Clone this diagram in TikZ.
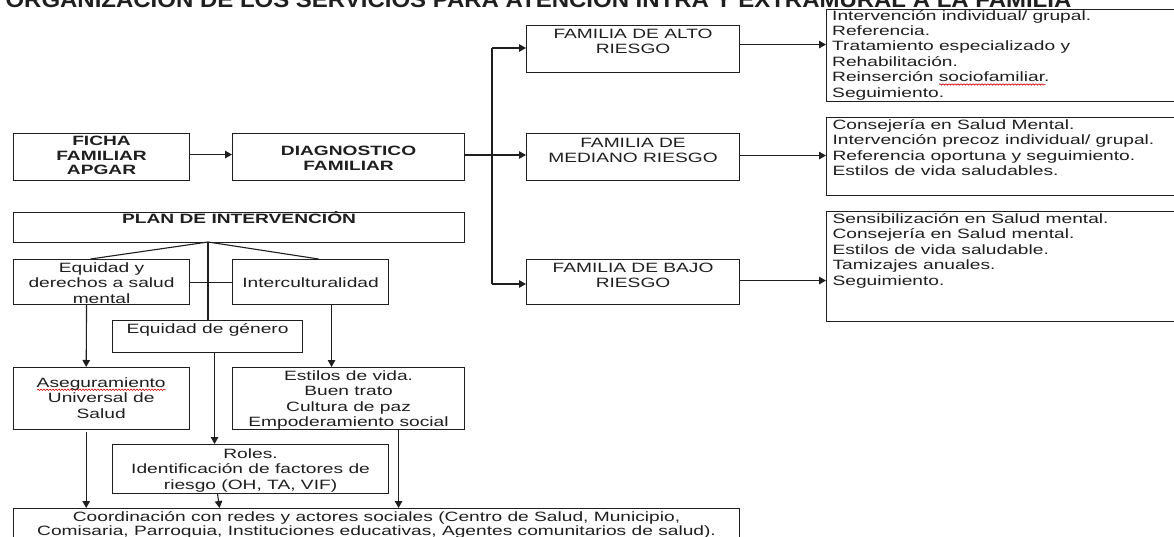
\documentclass[tikz,border=0pt]{standalone}
\usepackage{fontspec}
\setmainfont{Liberation Sans}[FakeStretch=1.42]
\newfontfamily\tfont{Liberation Sans}[FakeStretch=1.09]
\usetikzlibrary{arrows.meta,decorations.pathmorphing}
\newlength\spellw
\newcommand\spellchk[1]{\settowidth{\spellw}{#1}\makebox[0pt][l]{\tikz[baseline=0pt]\draw[red!85!black, line width=0.6pt, decorate, decoration={snake, amplitude=0.7pt, segment length=3pt}] (0pt,-2.6pt) -- (\spellw,-2.6pt);}#1}
\newcommand\mlines[2][c]{\begin{tabular}[t]{@{}#1@{}}#2\end{tabular}}
\begin{document}
\begin{tikzpicture}[x=1pt,y=-1pt,color=black!88,line width=1.1pt,
  box/.style={draw, rectangle, inner sep=0pt, anchor=north west, font=\fontsize{13.5}{15.4}\selectfont},
  bbox/.style={box, font=\fontsize{13.5}{15}\selectfont\bfseries},
  lbox/.style={box, inner xsep=6pt},
  arr/.style={-{Triangle[length=7pt,width=7.5pt]}}]
\useasboundingbox (0,0) rectangle (1174,537);
\clip (0,0) rectangle (1174,537);
\fill[white] (0,0) rectangle (1174,537);

% title
\node[anchor=base west, inner sep=0pt, font=\tfont\bfseries\fontsize{22}{24}\selectfont] (title) at (5,7.5)
  {ORGANIZACIÓN DE LOS SERVICIOS PARA ATENCIÓN INTRA Y EXTRAMURAL A LA FAMILIA};

% risk families
\node[box, minimum width=213pt, text height=13pt, text depth=34pt] (alto) at (526,25)
  {\mlines{FAMILIA DE ALTO\\RIESGO}};
\node[box, minimum width=213pt, text height=14pt, text depth=33pt] (med) at (526,133)
  {\mlines{FAMILIA DE\\MEDIANO RIESGO}};
\node[box, minimum width=213pt, text height=13pt, text depth=32pt] (bajo) at (526,259)
  {\mlines{FAMILIA DE BAJO\\RIESGO}};

% lists
\node[lbox, text height=11pt, text depth=81pt] (lalto) at (826,9)
  {\makebox[348pt][l]{\mlines[l]{Intervención individual/ grupal.\\Referencia.\\Tratamiento especializado y\\Rehabilitación.\\Reinserción \spellchk{sociofamiliar}.\\Seguimiento.}}};
\node[lbox, text height=12pt, text depth=66pt] (lmed) at (826,117)
  {\makebox[348pt][l]{\mlines[l]{Consejería en Salud Mental.\\Intervención precoz individual/ grupal.\\Referencia oportuna y seguimiento.\\Estilos de vida saludables.}}};
\node[lbox, text height=12pt, text depth=98pt] (lbajo) at (826,211)
  {\makebox[348pt][l]{\mlines[l]{Sensibilización en Salud mental.\\Consejería en Salud mental.\\Estilos de vida saludable.\\Tamizajes anuales.\\Seguimiento.}}};

% left column
\node[bbox, minimum width=176pt, text height=12pt, text depth=35pt, font=\fontsize{13.5}{14.5}\selectfont\bfseries] (ficha) at (13,133)
  {\mlines{FICHA\\FAMILIAR\\APGAR}};
\node[bbox, minimum width=232pt, text height=22pt, text depth=25pt] (diag) at (232,133)
  {\mlines{DIAGNOSTICO\\FAMILIAR}};
\node[bbox, minimum width=451pt, text height=11pt, text depth=19pt] (plan) at (13,212)
  {PLAN DE INTERVENCIÓN};
\node[box, minimum width=176pt, text height=13pt, text depth=32pt] (equi) at (13,259)
  {\mlines{Equidad y\\derechos a salud\\mental}};
\node[box, minimum width=156pt, text height=28pt, text depth=17pt] (inter) at (232,259)
  {Interculturalidad};
\node[box, minimum width=190pt, text height=13pt, text depth=19pt] (gen) at (112,320)
  {Equidad de género};
\node[box, minimum width=176pt, text height=20pt, text depth=42pt] (aseg) at (13,367)
  {\mlines{\spellchk{Aseguramiento}\\Universal de\\Salud}};
\node[box, minimum width=232pt, text height=13pt, text depth=49pt] (est) at (232,367)
  {\mlines{Estilos de vida.\\Buen trato\\Cultura de paz\\Empoderamiento social}};
\node[box, minimum width=276pt, text height=14pt, text depth=35pt] (roles) at (112,444)
  {\mlines{Roles.\\Identificación de factores de\\riesgo (OH, TA, VIF)}};
\node[box, minimum width=726pt, text height=13pt, text depth=30pt, font=\fontsize{13.5}{14}\selectfont] (coord) at (13,508)
  {\mlines{Coordinación con redes y actores sociales (Centro de Salud, Municipio,\\Comisaria, Parroquia, Instituciones educativas, Agentes comunitarios de salud).}};

% connectors, top part
\draw[arr] ([yshift=2.5pt]ficha.east) -- ([yshift=2.5pt]diag.west);
\coordinate (j) at (492,155);
\coordinate (jt) at (492,48);
\coordinate (jb) at (492,284);
\draw (diag.east |- j) -- (j);
\draw (jt) -- (jb);
\draw[arr] (jt) -- (jt -| alto.west);
\draw[arr] (j) -- (j -| med.west);
\draw[arr] (jb) -- (jb -| bajo.west);
\draw[arr] ([yshift=4.5pt]alto.east) -- ([yshift=4.5pt]alto.east -| lalto.west);
\draw[arr] ([yshift=1.5pt]med.east) -- ([yshift=1.5pt]med.east -| lmed.west);
\draw[arr] ([yshift=1.5pt]bajo.east) -- ([yshift=1.5pt]bajo.east -| lbajo.west);

% plan branches
\coordinate (p) at (208,242);
\draw (p) -- ([xshift=-11pt]equi.north);
\draw (p) -- ([xshift=8pt]inter.north);
\draw (p) -- (p |- gen.north);
\draw (equi.east) -- (inter.west);
\draw[arr] ([xshift=-15pt]equi.south) -- ([xshift=-15pt]aseg.north);
\draw[arr] ([xshift=21pt]inter.south) -- ([xshift=21pt]inter.south |- est.north);
\draw[arr] ([xshift=7pt]gen.south) -- ([xshift=7pt]gen.south |- roles.north);
\draw[arr] ([xshift=-15pt,yshift=-3pt]aseg.south) -- ([xshift=-15pt]aseg.south |- coord.north);
\draw[arr] ([xshift=-33pt]roles.south) -- ([xshift=-31pt]roles.south |- coord.north);
\draw[arr] ([xshift=50pt]est.south) -- ([xshift=50pt]est.south |- coord.north);
\end{tikzpicture}
\end{document}
